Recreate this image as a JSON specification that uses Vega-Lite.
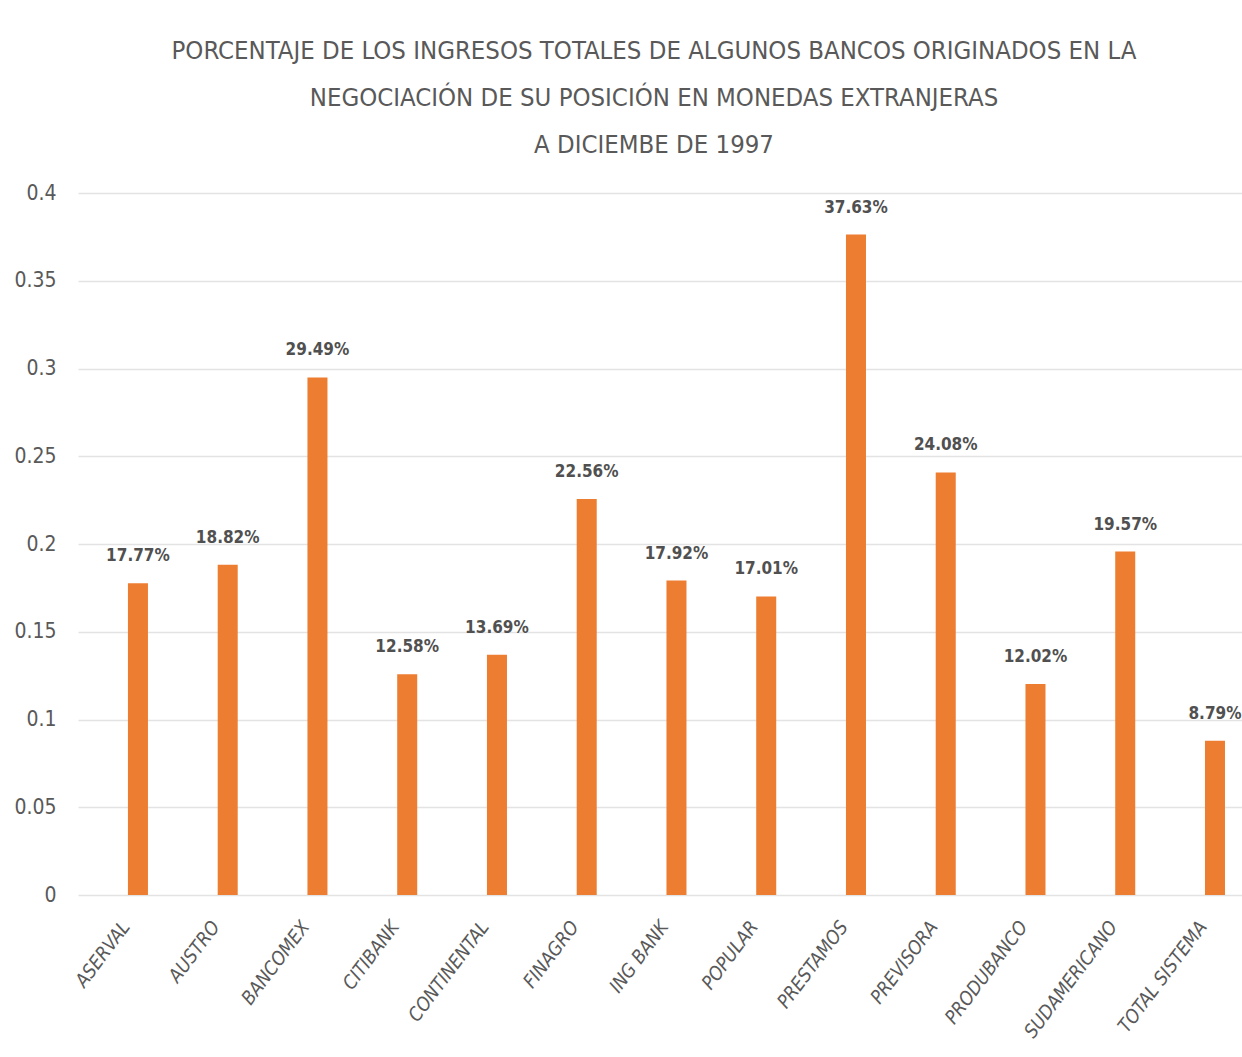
{
  "$schema": "https://vega.github.io/schema/vega-lite/v6.json",
  "autosize": "none",
  "width": 1164,
  "height": 702,
  "padding": {"left": 78, "top": 193, "right": 0, "bottom": 162},
  "background": "white",
  "title": {
    "text": [
      "PORCENTAJE DE LOS INGRESOS TOTALES DE ALGUNOS BANCOS ORIGINADOS EN LA",
      "NEGOCIACIÓN DE SU POSICIÓN EN MONEDAS EXTRANJERAS",
      "A DICIEMBE DE 1997"
    ],
    "anchor": "middle",
    "font": "DejaVu Sans Condensed, Open Sans, sans-serif",
    "fontSize": 25.5,
    "fontWeight": "normal",
    "color": "#595959",
    "lineHeight": 47,
    "offset": 24,
    "dx": -6
  },
  "data": {
    "values": [
      {"banco": "ASERVAL", "valor": 0.1777},
      {"banco": "AUSTRO", "valor": 0.1882},
      {"banco": "BANCOMEX", "valor": 0.2949},
      {"banco": "CITIBANK", "valor": 0.1258},
      {"banco": "CONTINENTAL", "valor": 0.1369},
      {"banco": "FINAGRO", "valor": 0.2256},
      {"banco": "ING BANK", "valor": 0.1792},
      {"banco": "POPULAR", "valor": 0.1701},
      {"banco": "PRESTAMOS", "valor": 0.3763},
      {"banco": "PREVISORA", "valor": 0.2408},
      {"banco": "PRODUBANCO", "valor": 0.1202},
      {"banco": "SUDAMERICANO", "valor": 0.1957},
      {"banco": "TOTAL SISTEMA", "valor": 0.0879}
    ]
  },
  "encoding": {
    "x": {
      "field": "banco",
      "type": "nominal",
      "sort": null,
      "scale": {"paddingInner": 0.777, "paddingOuter": 0.373, "align": 0.746},
      "axis": {
        "title": null,
        "labelAngle": -53,
        "labelAlign": "right",
        "labelBaseline": "middle",
        "labelFont": "DejaVu Sans Condensed, Open Sans, sans-serif",
        "labelFontSize": 19,
        "labelFontStyle": "italic",
        "labelColor": "#595959",
        "labelPadding": 28,
        "labelOffset": -12,
        "ticks": false,
        "domain": false,
        "grid": false
      }
    },
    "y": {
      "field": "valor",
      "type": "quantitative",
      "scale": {"domain": [0, 0.4], "nice": false},
      "axis": {
        "title": null,
        "values": [0, 0.05, 0.1, 0.15, 0.2, 0.25, 0.3, 0.35, 0.4],
        "labelExpr": "datum.value === 0 ? '0' : format(datum.value, '.2~f')",
        "labelFont": "DejaVu Sans Condensed, Open Sans, sans-serif",
        "labelFontSize": 21,
        "labelColor": "#595959",
        "labelPadding": 22,
        "ticks": false,
        "domain": false,
        "grid": true,
        "gridColor": "#E3E3E3",
        "gridWidth": 1.5
      }
    }
  },
  "layer": [
    {
      "mark": {"type": "bar", "color": "#ED7D31"}
    },
    {
      "mark": {
        "type": "text",
        "baseline": "bottom",
        "dy": -18,
        "font": "DejaVu Sans Condensed, Open Sans, sans-serif",
        "fontSize": 17,
        "fontWeight": "bold",
        "color": "#505050"
      },
      "encoding": {
        "text": {"field": "valor", "type": "quantitative", "format": ".2%"}
      }
    }
  ],
  "config": {
    "view": {"stroke": null}
  }
}
